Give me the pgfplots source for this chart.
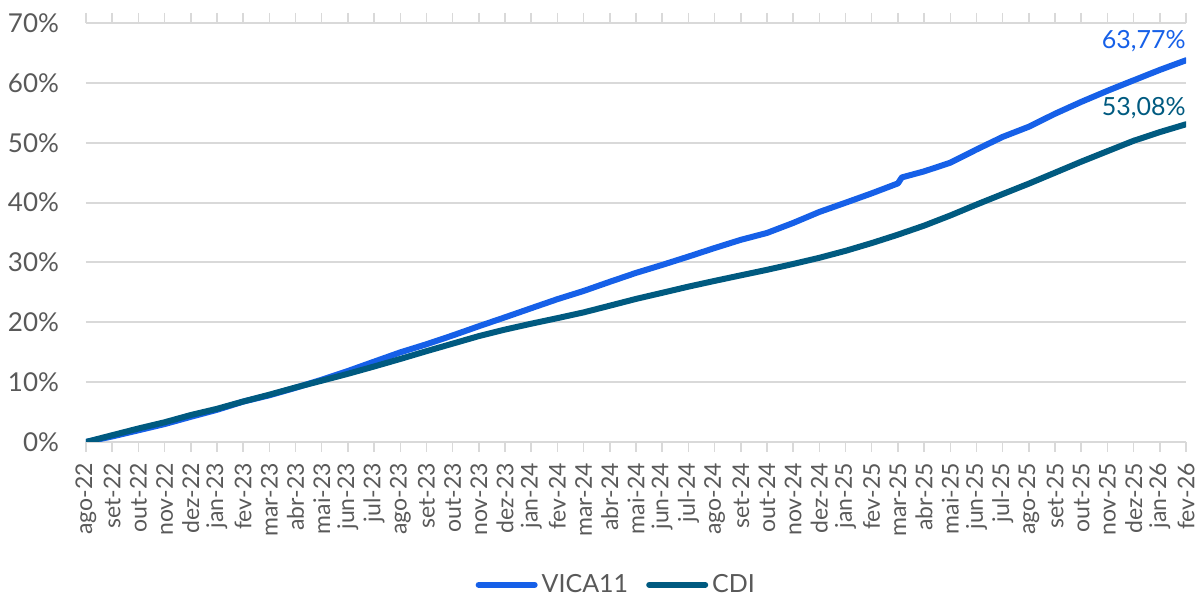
\documentclass[border=0pt]{standalone}
\usepackage{fontspec}
\setmainfont{Lato}
\usepackage{pgfplots}
\pgfplotsset{compat=1.18}
\usetikzlibrary{calc}

\definecolor{vica}{RGB}{22,96,232}
\definecolor{cdi}{RGB}{0,90,128}
\definecolor{gridgray}{RGB}{217,217,217}
\definecolor{textgray}{RGB}{89,89,89}

% month index (0 = ago-22), VICA11, CDI (cumulative return, %)
\pgfplotstableread{
m     vica   cdi
0     0.0    0.0
1     0.92   1.13
2     1.95   2.25
3     2.99   3.29
4     4.2    4.5
5     5.37   5.54
6     6.74   6.76
7     7.8    7.9
8     9.05   9.11
9     10.4   10.24
10    11.86  11.39
11    13.42  12.61
12    14.97  13.87
13    16.33  15.17
14    17.8   16.43
15    19.34  17.69
16    20.83  18.78
17    22.35  19.76
18    23.86  20.69
19    25.23  21.65
20    26.76  22.77
21    28.25  23.9
22    29.58  24.92
23    30.97  25.95
24    32.4   26.91
25    33.77  27.84
26    34.92  28.76
27    36.59  29.74
28    38.43  30.77
29    39.97  31.93
30    41.54  33.23
31    43.2   34.63
31.15 44.2   34.86
32    45.21  36.14
33    46.66  37.84
34    48.86  39.66
35    50.97  41.42
36    52.67  43.16
37    54.84  44.99
38    56.82  46.83
39    58.67  48.58
40    60.42  50.32
41    62.16  51.77
42    63.77  53.08
}\datatable

\begin{document}
\begin{tikzpicture}
\begin{axis}[
  name=ax,
  scale only axis,
  width=550pt, height=209.5pt,
  xmin=0, xmax=42,
  ymin=0, ymax=70,
  ytick={0,10,...,70},
  yticklabel={\pgfmathprintnumber{\tick}\%},
  xtick={0,...,42},
  xticklabels={ago-22,set-22,out-22,nov-22,dez-22,jan-23,fev-23,mar-23,abr-23,mai-23,jun-23,jul-23,ago-23,set-23,out-23,nov-23,dez-23,jan-24,fev-24,mar-24,abr-24,mai-24,jun-24,jul-24,ago-24,set-24,out-24,nov-24,dez-24,jan-25,fev-25,mar-25,abr-25,mai-25,jun-25,jul-25,ago-25,set-25,out-25,nov-25,dez-25,jan-26,fev-26},
  /pgf/number format/assume math mode=true,
  axis line style={draw=none},
  ymajorgrids,
  grid style={gridgray, line width=1pt},
  major tick length=5pt,
  tick align=outside,
  ytick style={draw=none},
  xtick style={gridgray, line width=0.75pt},
  yticklabel style={font=\fontsize{13}{15}\selectfont, text=textgray, xshift=-5pt},
  xticklabel style={font=\fontsize{11.5}{13}\selectfont, text=textgray, rotate=90, anchor=east, xshift=-2pt},
  legend style={at={(0.483,-0.341)}, anchor=center, draw=none, font=\fontsize{12.5}{14}\selectfont, text=textgray,
    /tikz/every even column/.append style={column sep=7pt},
    /tikz/every odd column/.append style={inner xsep=1pt}},
  legend columns=2,
  legend image code/.code={\draw[#1, line width=3pt] (0pt,0pt) -- (28pt,0pt);},
]
\addplot[vica, line width=3pt, line join=round, line cap=round] table[x=m, y=vica] {\datatable};
\addlegendentry{VICA11}
\addplot[cdi, line width=3pt, line join=round, line cap=round] table[x=m, y=cdi] {\datatable};
\addlegendentry{CDI}
\node[anchor=base east, inner sep=0pt, text=vica, font=\fontsize{12.5}{14}\selectfont, yshift=6pt] at (axis cs:42,63.77) {63,77\%};
\node[anchor=base east, inner sep=0pt, text=cdi, font=\fontsize{12.5}{14}\selectfont, yshift=4.5pt] at (axis cs:42,53.08) {53,08\%};
\end{axis}
\pgfresetboundingbox
\path[use as bounding box] ($(ax.south west)+(-43pt,-77.5pt)$) rectangle ($(ax.north east)+(5.5pt,11.5pt)$);
\end{tikzpicture}
\end{document}
